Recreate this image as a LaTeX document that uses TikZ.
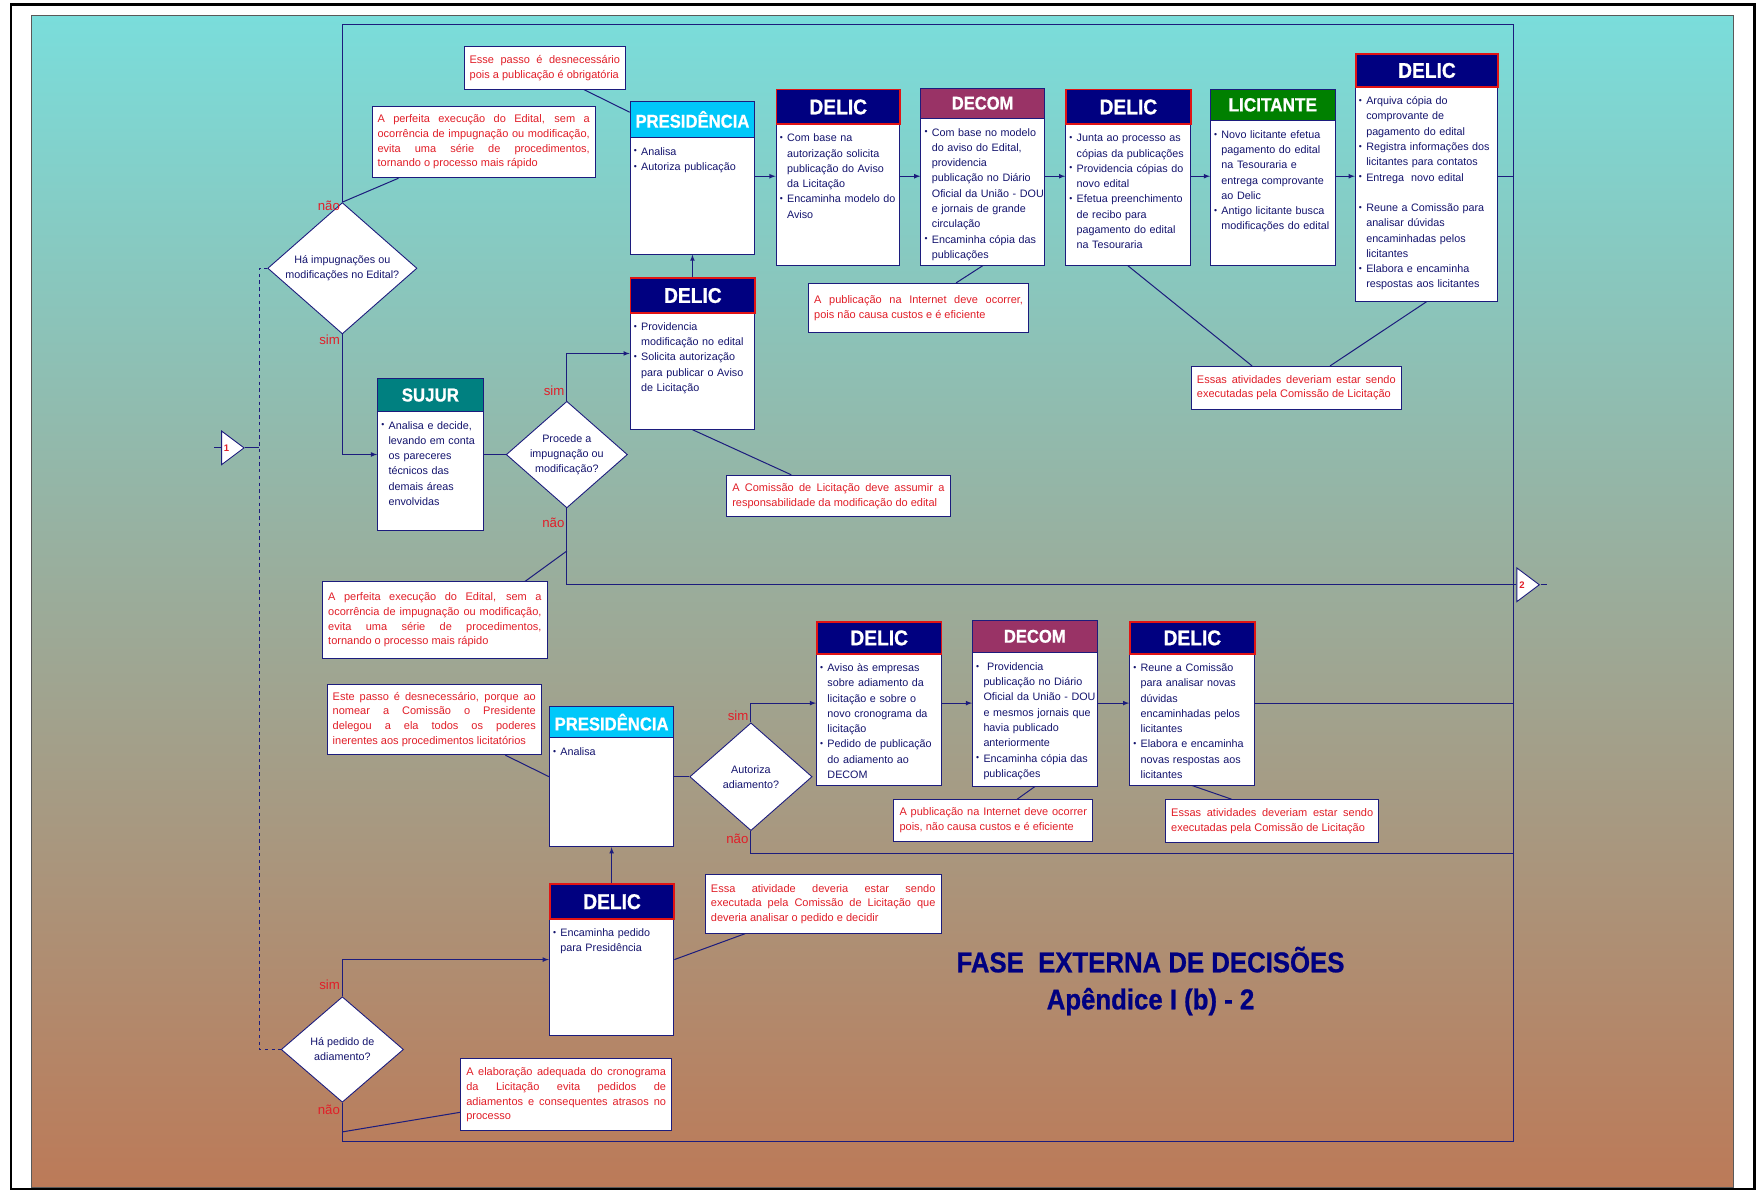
\documentclass[tikz,border=0pt]{standalone}
\usepackage{fontspec}
\setmainfont{Liberation Sans}
\newfontfamily\hdfont[FakeStretch=0.9,FakeBold=0.8]{Liberation Sans}
\usepackage{graphicx}
\usetikzlibrary{arrows,shapes.geometric,positioning,calc}

\definecolor{lnblue}{RGB}{28,28,125}
\definecolor{txtblue}{RGB}{20,20,110}
\definecolor{notered}{RGB}{225,30,40}
\definecolor{delnavy}{RGB}{0,0,128}
\definecolor{delred}{RGB}{225,20,20}
\definecolor{prescyan}{RGB}{0,200,250}
\definecolor{decompurple}{RGB}{153,51,102}
\definecolor{licgreen}{RGB}{0,128,0}
\definecolor{sujurteal}{RGB}{0,128,128}
\definecolor{bgtop}{RGB}{122,221,219}
\definecolor{bgmid}{RGB}{152,176,160}
\definecolor{bgbot}{RGB}{188,122,88}

\tolerance=10000
\hyphenpenalty=10000
\exhyphenpenalty=10000

% bullet with hanging indent
\newcommand{\itm}{\par\noindent\hangindent=8pt\hangafter=1\makebox[8pt][l]{\hspace{1.5pt}\raisebox{0.12em}{\scalebox{0.8}{\textbullet}}}}

% actor box: name, left, top, right, header bottom, bottom, header style, title, text
\newcommand{\actor}[9]{%
  \pgfmathsetmacro{\bw}{#4-#2}%
  \pgfmathsetmacro{\bh}{#6-#3}%
  \pgfmathsetmacro{\hh}{#5-#3}%
  \pgfmathsetmacro{\tw}{#4-#2+20}%
  \node[boxframe, minimum width=\bw pt, minimum height=\bh pt] (#1) at (#2,#3) {};
  \node[#7, minimum width=\bw pt, minimum height=\hh pt] (#1-h) at (#2,#3) {#8};
  \node[bodytxt, text width=\tw pt] (#1-t) at (#2,#5) {#9\par};
}

% comment box: name, left, top, right, bottom, text
\newcommand{\nota}[6]{%
  \pgfmathsetmacro{\bw}{#4-#2}%
  \pgfmathsetmacro{\bh}{#5-#3}%
  \pgfmathsetmacro{\tw}{#4-#2-10}%
  \node[obs, minimum width=\bw pt, minimum height=\bh pt, text width=\tw pt] (#1) at (#2,#3) {#6};
}

\begin{document}
\begin{tikzpicture}[x=1pt,y=-1pt,
  boxframe/.style={draw=lnblue, fill=white, line width=0.8pt, inner sep=0pt, anchor=north west},
  hd/.style={anchor=north west, inner sep=0pt, text=white, draw=lnblue, line width=0.8pt},
  delichd/.style={hd, fill=delnavy, draw=delred, line width=1.6pt, font=\hdfont\bfseries\fontsize{19}{20}\selectfont},
  preshd/.style={hd, fill=prescyan, font=\hdfont\bfseries\fontsize{16.5}{18}\selectfont},
  decomhd/.style={hd, fill=decompurple, font=\hdfont\bfseries\fontsize{16.4}{18}\selectfont},
  lichd/.style={hd, fill=licgreen, font=\hdfont\bfseries\fontsize{17}{18}\selectfont},
  sujurhd/.style={hd, fill=sujurteal, font=\hdfont\bfseries\fontsize{16.7}{18}\selectfont},
  bodytxt/.style={anchor=north west, align=left, text=txtblue, inner xsep=2pt, inner ysep=2.5pt, font=\fontsize{9.6}{13.6}\selectfont},
  obs/.style={anchor=north west, draw=lnblue, fill=white, line width=0.8pt, text=notered, align=justify, inner xsep=5pt, inner ysep=3pt, font=\fontsize{9.8}{13.1}\selectfont},
  decision/.style={diamond, draw=lnblue, fill=white, line width=0.8pt, inner sep=0pt},
  dtxt/.style={text=txtblue, align=center, font=\fontsize{9.6}{13.4}\selectfont},
  flow/.style={draw=lnblue, line width=0.9pt},
  arr/.style={flow, -latex},
  resp/.style={text=notered, inner sep=0pt, font=\fontsize{11.8}{13}\selectfont},
  tri/.style={isosceles triangle, isosceles triangle stretches, draw=lnblue, fill=white, line width=0.8pt, inner sep=0pt, minimum width=30pt, minimum height=20pt},
  trinum/.style={text=notered, inner sep=0pt, font=\bfseries\fontsize{8.5}{9}\selectfont},
  ttl/.style={text=delnavy, align=center, font=\hdfont\bfseries\fontsize{25.5}{33}\selectfont}]

\useasboundingbox (0,0) rectangle (1568,1064);
\fill[white] (0,0) rectangle (1568,1064);
\shade[top color=bgtop, middle color=bgmid, bottom color=bgbot] (28,14) rectangle (1544,1058);
\draw[gray!70!black, line width=0.6pt] (28,14) rectangle (1544,1058);
\draw[line width=2pt] (10,4) rectangle (1563,1059);

% upper flow
\actor{pres1}{561}{90}{672}{122}{226}{preshd}{PRESIDÊNCIA}{\itm Analisa \itm Autoriza publicação}
\actor{delic1}{691}{79}{801}{110}{236}{delichd}{DELIC}{\itm Com base na\newline autorização solicita\newline publicação do Aviso\newline da Licitação \itm Encaminha modelo do\newline Aviso}
\actor{decom1}{820}{78}{930}{105}{236}{decomhd}{DECOM}{\itm Com base no modelo\newline do aviso do Edital,\newline providencia\newline publicação no Diário\newline Oficial da União - DOU\newline e jornais de grande\newline circulação \itm Encaminha cópia das\newline publicações}
\actor{delic2}{949}{79}{1060}{110}{236}{delichd}{DELIC}{\itm Junta ao processo as\newline cópias da publicações \itm Providencia cópias do\newline novo edital \itm Efetua preenchimento\newline de recibo para\newline pagamento do edital\newline na Tesouraria}
\actor{lic}{1078}{79}{1189}{107}{236}{lichd}{LICITANTE}{\itm Novo licitante efetua\newline pagamento do edital\newline na Tesouraria e\newline entrega comprovante\newline ao Delic \itm Antigo licitante busca\newline modificações do edital}
\actor{delic3}{1207}{47}{1334}{77}{268}{delichd}{DELIC}{\itm Arquiva cópia do\newline comprovante de\newline pagamento do edital \itm Registra informações dos\newline licitantes para contatos \itm Entrega\ \ novo edital\newline\mbox{} \itm Reune a Comissão para\newline analisar dúvidas\newline encaminhadas pelos\newline licitantes \itm Elabora e encaminha\newline respostas aos licitantes}
\actor{sujur}{336}{337}{430}{366}{472}{sujurhd}{SUJUR}{\itm Analisa e decide,\newline levando em conta\newline os pareceres\newline técnicos das\newline demais áreas\newline envolvidas}
\actor{delicm}{561}{247}{672}{278}{382}{delichd}{DELIC}{\itm Providencia\newline modificação no edital \itm Solicita autorização\newline para publicar o Aviso\newline de Licitação}

% lower flow
\actor{pres2}{489}{629}{600}{657}{754}{preshd}{PRESIDÊNCIA}{\itm Analisa}
\actor{delicL1}{727}{553}{838}{582}{699}{delichd}{DELIC}{\itm Aviso às empresas\newline sobre adiamento da\newline licitação e sobre o\newline novo cronograma da\newline licitação \itm Pedido de publicação\newline do adiamento ao\newline DECOM}
\actor{decomL}{866}{552}{977}{581}{700}{decomhd}{DECOM}{\itm\ Providencia\newline publicação no Diário\newline Oficial da União - DOU\newline e mesmos jornais que\newline havia publicado\newline anteriormente \itm Encaminha cópia das\newline publicações}
\actor{delicL2}{1006}{553}{1117}{582}{699}{delichd}{DELIC}{\itm Reune a Comissão\newline para analisar novas\newline dúvidas\newline encaminhadas pelos\newline licitantes \itm Elabora e encaminha\newline novas respostas aos\newline licitantes}
\actor{delicL3}{489}{787}{600}{818}{922}{delichd}{DELIC}{\itm Encaminha pedido\newline para Presidência}

% decisions
\node[decision, minimum width=133pt, minimum height=117pt, label={[dtxt]center:Há impugnações ou\\modificações no Edital?}] (d1) at (305,239) {};
\node[decision, minimum width=108pt, minimum height=95pt, label={[dtxt]center:Procede a\\impugnação ou\\modificação?}] (d2) at (505,405) {};
\node[decision, minimum width=109pt, minimum height=96pt, label={[dtxt]center:Autoriza\\adiamento?}] (d3) at (669,692) {};
\node[decision, minimum width=109pt, minimum height=94pt, label={[dtxt]center:Há pedido de\\adiamento?}] (d4) at (305,935) {};

\node[resp, anchor=east] (d1-no) at ([xshift=-2pt,yshift=-3pt]d1.north) {não};
\node[resp, anchor=east] (d1-yes) at ([xshift=-2pt,yshift=-5pt]d1.south) {sim};
\node[resp, anchor=east] (d2-yes) at ([xshift=-2pt,yshift=9pt]d2.north) {sim};
\node[resp, anchor=east] (d2-no) at ([xshift=-2pt,yshift=-13pt]d2.south) {não};
\node[resp, anchor=east] (d3-yes) at ([xshift=-2pt,yshift=6pt]d3.north) {sim};
\node[resp, anchor=east] (d3-no) at ([xshift=-2pt,yshift=-7pt]d3.south) {não};
\node[resp, anchor=east] (d4-yes) at ([xshift=-2pt,yshift=10pt]d4.north) {sim};
\node[resp, anchor=east] (d4-no) at ([xshift=-2pt,yshift=-6pt]d4.south) {não};

% connectors between pages
\node[tri, anchor=lower side, label={[trinum, xshift=-3pt]center:1}] (t1) at (197,399) {};
\node[tri, anchor=lower side, label={[trinum, xshift=-3pt]center:2}] (t2) at (1351,521) {};
\coordinate (t1in) at (191,399);
\coordinate (t2out) at (1378,521);
\coordinate (dsh) at (231,0);
\coordinate (rtop) at (1348,22);
\coordinate (rbot) at (1348,1017);
\coordinate (r1) at (0,157);
\coordinate (nao3) at (0,760);

% comments
\nota{n1}{413}{41}{557}{79}{Esse passo é desnecessário\linebreak pois a publicação é obrigatória}
\nota{n2}{331}{94}{530}{158}{A perfeita execução do Edital, sem a\linebreak ocorrência de impugnação ou modificação,\linebreak evita uma série de procedimentos,\linebreak tornando o processo mais rápido}
\nota{n3}{720}{252}{916}{296}{A publicação na Internet deve ocorrer,\linebreak pois não causa custos e é eficiente}
\nota{n4}{1061}{326}{1248}{364}{Essas atividades deveriam estar sendo\linebreak executadas pela Comissão de Licitação}
\nota{n5}{647}{423}{846}{460}{A Comissão de Licitação deve assumir a\linebreak responsabilidade da modificação do edital}
\nota{n6}{287}{518}{487}{586}{A perfeita execução do Edital, sem a\linebreak ocorrência de impugnação ou modificação,\linebreak evita uma série de procedimentos,\linebreak tornando o processo mais rápido}
\nota{n7}{291}{609}{482}{672}{Este passo é desnecessário, porque ao\linebreak nomear a Comissão o Presidente\linebreak delegou a ela todos os poderes\linebreak inerentes aos procedimentos licitatórios}
\nota{n8}{796}{712}{973}{749}{A publicação na Internet deve ocorrer\linebreak pois, não causa custos e é eficiente}
\nota{n9}{1038}{712}{1228}{750}{Essas atividades deveriam estar sendo\linebreak executadas pela Comissão de Licitação}
\nota{n10}{628}{779}{838}{831}{Essa atividade deveria estar sendo\linebreak executada pela Comissão de Licitação que\linebreak deveria analisar o pedido e decidir}
\nota{n11}{410}{943}{598}{1007}{A elaboração adequada do cronograma\linebreak da Licitação evita pedidos de\linebreak adiamentos e consequentes atrasos no\linebreak processo}

\node[ttl] (title) at (1025,874) {FASE\ \ EXTERNA DE DECISÕES\\Apêndice I (b) - 2};

% flow lines
\draw[flow] (d1.north) |- (rtop) -- (rbot) -| (d4.south);
\draw[arr] (pres1.east |- r1) -- (delic1.west |- r1);
\draw[arr] (delic1.east |- r1) -- (decom1.west |- r1);
\draw[arr] (decom1.east |- r1) -- (delic2.west |- r1);
\draw[arr] (delic2.east |- r1) -- (lic.west |- r1);
\draw[arr] (lic.east |- r1) -- (delic3.west |- r1);
\draw[flow] (delic3.east |- r1) -- (rtop |- r1);
\draw[arr] (delicm.north) -- (pres1.south);
\draw[arr] (d1.south) |- (sujur.west);
\draw[flow] (sujur.east |- d2.west) -- (d2.west);
\draw[arr] (d2.north) |- (delicm.west);
\draw[flow] (d2.south) |- (t2.lower side);
\draw[flow] (t2.apex) -- (t2out);
\draw[flow] (t1in) -- (t1.lower side);
\draw[flow] (t1.apex) -- (t1.apex -| dsh);
\draw[flow, dashed] (d1.west) -- (d1.west -| dsh) -- (d4.west -| dsh) -- (d4.west);

\draw[flow] (pres2.east |- d3.west) -- (d3.west);
\draw[arr] (d3.north) |- (delicL1.west);
\draw[arr] (delicL1.east) -- (decomL.west);
\draw[arr] (decomL.east) -- (delicL2.west);
\draw[flow] (delicL2.east) -- (delicL2.east -| rtop);
\draw[flow] (d3.south) |- (rtop |- nao3);
\draw[arr] (delicL3.north) -- (pres2.south);
\draw[arr] (d4.north) |- (delicL3.west);

% comment links
\draw[flow] ($(n1.south west)!0.74!(n1.south east)$) -- ([yshift=-10pt]pres1.north west);
\draw[flow] ($(n2.south west)!0.12!(n2.south east)$) -- (d1.north);
\draw[flow] (decom1.south) -- ($(n3.north west)!0.67!(n3.north east)$);
\draw[flow] (delic2.south) -- ($(n4.north west)!0.29!(n4.north east)$);
\draw[flow] (delic3.south) -- ($(n4.north west)!0.66!(n4.north east)$);
\draw[flow] (delicm.south) -- ($(n5.north west)!0.29!(n5.north east)$);
\draw[flow] ([yshift=-38pt]d2.south) -- ($(n6.north west)!0.9!(n6.north east)$);
\draw[flow] ($(n7.south west)!0.83!(n7.south east)$) -- (pres2.west);
\draw[flow] (decomL.south) -- ($(n8.north west)!0.62!(n8.north east)$);
\draw[flow] (delicL2.south) -- ($(n9.north west)!0.31!(n9.north east)$);
\draw[flow] (delicL3.east) -- ($(n10.south west)!0.17!(n10.south east)$);
\draw[flow] ([yshift=-26pt]d4.south) -- ($(n11.north west)!0.74!(n11.south west)$);
\end{tikzpicture}
\end{document}
